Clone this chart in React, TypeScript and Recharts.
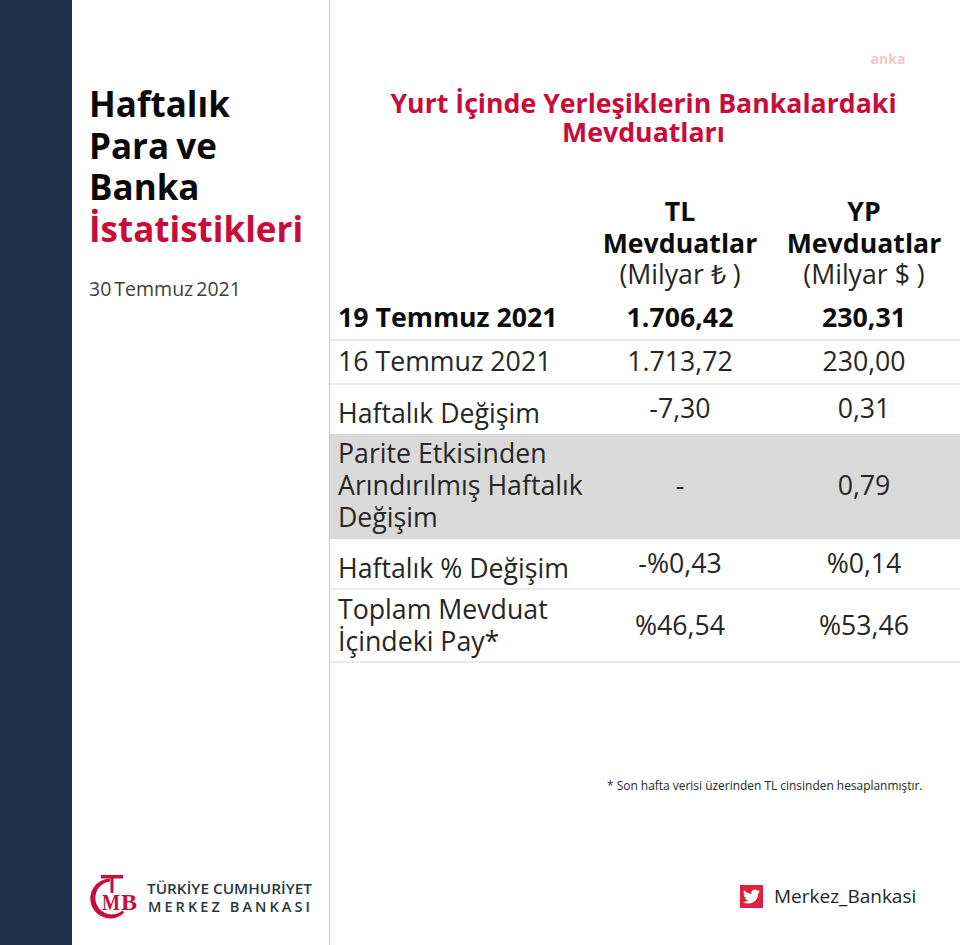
import { ComposedChart, ReferenceArea, ReferenceLine, Scatter, XAxis, YAxis } from "recharts";

const WIDTH = 960;
const HEIGHT = 945;
const FONT = "'Open Sans', sans-serif";
const RED = "#c90c3a";

const sideTitle = ["Haftalık", "Para ve", "Banka"];
const sideTitleAccent = "İstatistikleri";
const reportDate = "30 Temmuz 2021";
const tableTitle = ["Yurt İçinde Yerleşiklerin Bankalardaki", "Mevduatları"];
const columnHeaders = [
  ["TL", "Mevduatlar", "(Milyar ₺ )"],
  ["YP", "Mevduatlar", "(Milyar $ )"],
];
const rowLabels = [
  ["19 Temmuz 2021"],
  ["16 Temmuz 2021"],
  ["Haftalık Değişim"],
  ["Parite Etkisinden", "Arındırılmış Haftalık", "Değişim"],
  ["Haftalık % Değişim"],
  ["Toplam Mevduat", "İçindeki Pay*"],
];
const tlValues = ["1.706,42", "1.713,72", "-7,30", "-", "-%0,43", "%46,54"];
const ypValues = ["230,31", "230,00", "0,31", "0,79", "%0,14", "%53,46"];
const footnote = "* Son hafta verisi üzerinden TL cinsinden hesaplanmıştır.";
const twitterHandle = "Merkez_Bankasi";

// layout, in page pixels
const labelBaselines = [[327], [371], [423], [463, 495, 527], [578], [619, 651]];
const valueBaselines = [327, 371, 418, 495, 573, 635];
const headerBaselines = [221, 253, 284];
const columnX = [680, 864];
const ruleY = [340, 384, 589, 662];

type Cell = { x: number; y: number; text: string; bold: boolean; anchor: string };

const cells: Cell[] = [
  ...rowLabels.flatMap((lines, r) =>
    lines.map((text, i) => ({ x: 338, y: labelBaselines[r][i], text, bold: r === 0, anchor: "start" })),
  ),
  ...tlValues.map((text, r) => ({ x: columnX[0], y: valueBaselines[r], text, bold: r === 0, anchor: "middle" })),
  ...ypValues.map((text, r) => ({ x: columnX[1], y: valueBaselines[r], text, bold: r === 0, anchor: "middle" })),
  ...columnHeaders.flatMap((lines, c) =>
    lines.map((text, i) => ({ x: columnX[c], y: headerBaselines[i], text, bold: i < 2, anchor: "middle" })),
  ),
];

const CellText = (props: any) => {
  const { cx, cy, payload } = props;
  return (
    <text
      x={cx}
      y={cy}
      textAnchor={payload.anchor}
      fontFamily={FONT}
      fontSize={26.7}
      fontWeight={payload.bold ? 700 : 400}
      fill={payload.bold ? "#0d0d0d" : "#262626"}
    >
      {payload.text}
    </text>
  );
};

const TWITTER_BIRD =
  "M23.953 4.57a10 10 0 01-2.825.775 4.958 4.958 0 002.163-2.723c-.951.555-2.005.959-3.127 1.184a4.92 4.92 0 00-8.384 4.482C7.69 8.095 4.067 6.13 1.64 3.162a4.822 4.822 0 00-.666 2.475c0 1.71.87 3.213 2.188 4.096a4.904 4.904 0 01-2.228-.616v.06a4.923 4.923 0 003.946 4.827 4.996 4.996 0 01-2.212.085 4.936 4.936 0 004.604 3.417 9.867 9.867 0 01-6.102 2.105c-.39 0-.779-.023-1.17-.067a13.995 13.995 0 007.557 2.209c9.053 0 13.998-7.496 13.998-13.985 0-.21 0-.42-.015-.63A9.935 9.935 0 0024 4.59z";

const App = () => {
  return (
    <div style={{ position: "absolute", left: 0, top: 0, width: WIDTH, height: HEIGHT, background: "#fff" }}>
      <ComposedChart width={WIDTH} height={HEIGHT} margin={{ top: 0, right: 0, bottom: 0, left: 0 }}>
        <XAxis type="number" dataKey="x" domain={[0, WIDTH]} hide />
        <YAxis type="number" dataKey="y" domain={[0, HEIGHT]} reversed hide />

        <ReferenceArea x1={0} x2={72} y1={0} y2={HEIGHT} fill="#1c3048" fillOpacity={1} stroke="none" />
        <ReferenceArea x1={330} x2={WIDTH} y1={434} y2={539} fill="#d9d9d9" fillOpacity={1} stroke="none" />
        <ReferenceLine segment={[{ x: 329.5, y: 0 }, { x: 329.5, y: HEIGHT }]} stroke="#c8c8c8" strokeWidth={1} />
        {ruleY.map((y) => (
          <ReferenceLine key={y} segment={[{ x: 330, y }, { x: WIDTH, y }]} stroke="#e4e4e4" strokeWidth={1.5} />
        ))}

        <Scatter data={cells} dataKey="y" shape={CellText} isAnimationActive={false} />

        <polygon points="16,96 39,96 57,113 40,131 16,131 32,113" fill="#ffffff" />

        {sideTitle.map((line, i) => (
          <text key={line} x={89} y={117 + i * 41.5} fontFamily={FONT} fontSize={35} fontWeight={700} fill="#0a0a0a" wordSpacing={-2}>
            {line}
          </text>
        ))}
        <text x={89} y={242} fontFamily={FONT} fontSize={35} fontWeight={700} fill={RED}>
          {sideTitleAccent}
        </text>
        <text x={89} y={296} fontFamily={FONT} fontSize={19.5} fill="#404040" wordSpacing={-2}>
          {reportDate}
        </text>

        {tableTitle.map((line, i) => (
          <text
            key={line}
            x={643.5}
            y={113 + i * 29}
            textAnchor="middle"
            fontFamily={FONT}
            fontSize={26.7}
            fontWeight={700}
            fill={RED}
          >
            {line}
          </text>
        ))}

        <text x={888} y={64} textAnchor="middle" fontFamily={FONT} fontSize={14} fontWeight={700} fill="#f2c4cc">
          anka
        </text>

        <text x={607} y={790} fontFamily={FONT} fontSize={11.95} fill="#262626">
          {footnote}
        </text>

        <rect x={740} y={885} width={23} height={23} fill="#e0203f" />
        <g transform="translate(743,888) scale(0.71)">
          <path d={TWITTER_BIRD} fill="#ffffff" />
        </g>
        <text x={774} y={903} fontFamily={FONT} fontSize={19} fill="#262626">
          {twitterHandle}
        </text>

        {/* TCMB mark */}
        <path d="M 110 878.5 A 20 20 0 1 0 124 913 L 122.5 910.5 A 16.5 16.5 0 1 1 110 881.5 Z" fill={RED} />
        <rect x={101} y={875} width={22} height={3.5} fill={RED} />
        <rect x={110.5} y={875} width={3} height={18} fill={RED} />
        <text x={102} y={910} fontFamily="'Liberation Serif', serif" fontSize={24} fontWeight={700} fill={RED} textLength={18} lengthAdjust="spacingAndGlyphs">
          M
        </text>
        <text x={121} y={910} fontFamily="'Liberation Serif', serif" fontSize={24} fontWeight={700} fill={RED} textLength={16} lengthAdjust="spacingAndGlyphs">
          B
        </text>
        <text x={147} y={894} fontFamily={FONT} fontSize={14.5} fontWeight={600} fill="#2b3640" textLength={165} lengthAdjust="spacingAndGlyphs">
          TÜRKİYE CUMHURİYET
        </text>
        <text x={148} y={912} fontFamily={FONT} fontSize={14.5} fontWeight={600} fill="#2b3640" textLength={162} lengthAdjust="spacing">
          MERKEZ BANKASI
        </text>
      </ComposedChart>
    </div>
  );
};

export default App;
